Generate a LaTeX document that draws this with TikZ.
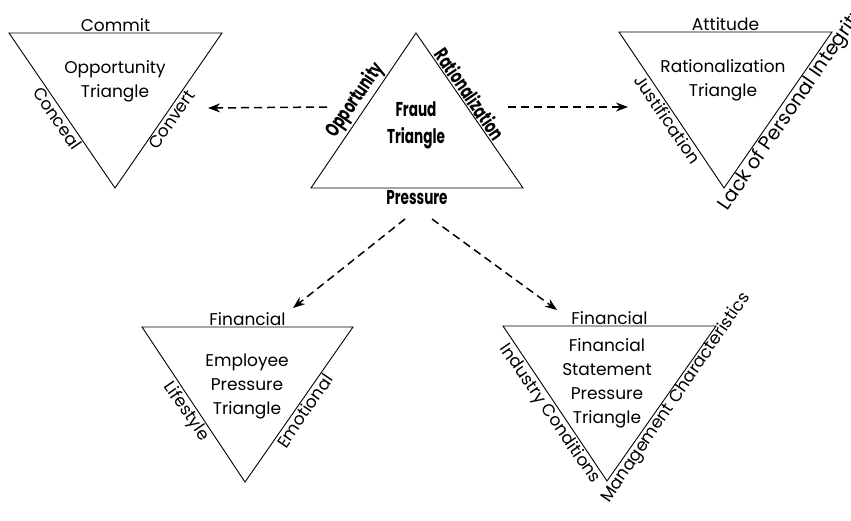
\documentclass[tikz,border=0pt]{standalone}
\usepackage{fontspec}
\setmainfont{Poppins}
\newfontfamily\fraudfont{Poppins}[FakeStretch=0.68]
\usetikzlibrary{positioning}
\usetikzlibrary{calc}
\usetikzlibrary{arrows.meta}

\tikzset{
	tri/.style={draw, line width=.9pt, line join=miter},
	lbl/.style={font=\fontsize{17}{17}\selectfont, inner sep=1.5pt},
	inside/.style={font=\fontsize{17}{24}\selectfont, align=center, inner sep=0pt},
	fraudlbl/.style={font=\fraudfont\bfseries\fontsize{20}{27}\selectfont, inner sep=1.5pt, align=center},
	flow/.style={dash pattern=on 8pt off 5pt, line width=1.5pt, -{Stealth[length=12pt, width=9pt]}}
}

\begin{document}
\begin{tikzpicture}[x=1pt, y=-1pt]
	\useasboundingbox (0,0) rectangle (851,520);

	% opportunity triangle
	\coordinate (oA) at (9,33);
	\coordinate (oB) at (222,33);
	\coordinate (oC) at (115,188);
	\draw[tri] (oA) -- (oB) -- (oC) -- cycle;
	\path (oA) -- (oB) node[lbl, midway, above=0pt] (commit) {Commit};
	\path (oA) -- (oC) node[lbl, pos=.52, rotate=-55.6, anchor=north] (conceal) {Conceal};
	\path (oB) -- (oC) node[lbl, pos=.53, rotate=55.6, anchor=north] (convert) {Convert};
	\node[inside] (otri) at (115,81) {Opportunity\\Triangle};

	% fraud triangle
	\coordinate (fA) at (416,33);
	\coordinate (fB) at (311,188);
	\coordinate (fC) at (523,188);
	\draw[tri] (fA) -- (fB) -- (fC) -- cycle;
	\path (fA) -- (fB) node[fraudlbl, pos=.48, rotate=55.6, anchor=south] (fopp) {Opportunity};
	\path (fA) -- (fC) node[fraudlbl, pos=.43, rotate=-55.6, anchor=south] (frat) {Rationalization};
	\path (fB) -- (fC) node[fraudlbl, midway, below=1pt] (fpress) {Pressure};
	\node[fraudlbl] (ftri) at (416,125) {Fraud\\Triangle};

	% rationalization triangle
	\coordinate (rA) at (619,32);
	\coordinate (rB) at (832,32);
	\coordinate (rC) at (724,188);
	\draw[tri] (rA) -- (rB) -- (rC) -- cycle;
	\path (rA) -- (rB) node[lbl, midway, above=0pt] (attitude) {Attitude};
	\path (rA) -- (rC) node[lbl, pos=.53, rotate=-55.6, anchor=north] (justif) {Justification};
	\node[lbl, font=\fontsize{19.5}{19.5}\selectfont, rotate=55.6, anchor=north west] (integrity) at ($(rB)!1.1!(rC)$) {Lack of Personal Integrity};
	\node[inside] (rtri) at (723,80) {Rationalization\\Triangle};

	% employee pressure triangle
	\coordinate (eA) at (142,327);
	\coordinate (eB) at (353,327);
	\coordinate (eC) at (245,482);
	\draw[tri] (eA) -- (eB) -- (eC) -- cycle;
	\path (eA) -- (eB) node[lbl, midway, above=0pt] (efin) {Financial};
	\path (eA) -- (eC) node[lbl, pos=.51, rotate=-55.6, anchor=north] (lifestyle) {Lifestyle};
	\path (eB) -- (eC) node[lbl, pos=.51, rotate=55.6, anchor=north] (emotional) {Emotional};
	\node[inside] (etri) at (247,386) {Employee\\Pressure\\Triangle};

	% financial statement pressure triangle
	\coordinate (sA) at (503,326);
	\coordinate (sB) at (716,326);
	\coordinate (sC) at (607,481);
	\draw[tri] (sA) -- (sB) -- (sC) -- cycle;
	\path (sA) -- (sB) node[lbl, midway, above=0pt] (sfin) {Financial};
	\path (sA) -- (sC) node[lbl, pos=.53, rotate=-55.6, anchor=north] (industry) {Industry Conditions};
	\node[lbl, rotate=55.6, anchor=north west] (mgmt) at ($(sB)!1.1!(sC)$) {Management Characteristics};
	\node[inside] (stri) at (607,383) {Financial\\Statement\\Pressure\\Triangle};

	% arrows
	\coordinate (fW) at (327,107);
	\coordinate (oE) at (208,108);
	\coordinate (fE) at (508,107);
	\coordinate (rW) at (628,107);
	\coordinate (fSW) at (405,219);
	\coordinate (eN) at (293,308);
	\coordinate (fSE) at (432,219);
	\coordinate (sN) at (557,310);
	\draw[flow] (fW) -- (oE);
	\draw[flow] (fE) -- (rW);
	\draw[flow] (fSW) -- (eN);
	\draw[flow] (fSE) -- (sN);
\end{tikzpicture}
\end{document}
